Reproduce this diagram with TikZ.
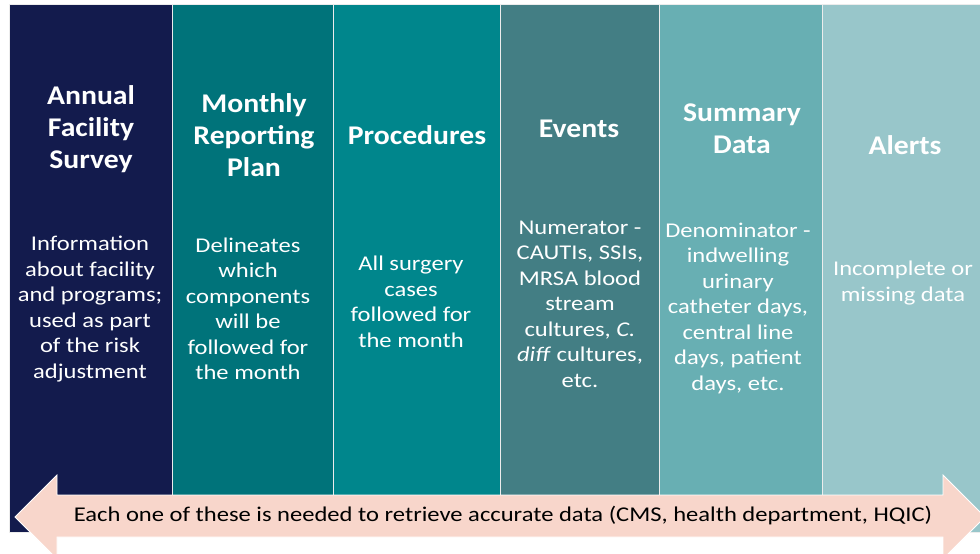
\documentclass[tikz,border=0pt]{standalone}
\usepackage{fontspec}
\setmainfont{Carlito}
\newfontfamily\headface[FakeStretch=1.1]{Carlito}
\newfontfamily\wideface[FakeStretch=1.17]{Carlito}
\usepackage{xcolor}
\usepackage{tikz}
\usetikzlibrary{positioning}

\definecolor{navyblue}{RGB}{19,27,77}
\definecolor{tealdark}{RGB}{0,115,122}
\definecolor{tealmid}{RGB}{0,134,140}
\definecolor{tealgrey}{RGB}{67,126,132}
\definecolor{teallight}{RGB}{104,175,179}
\definecolor{tealpale}{RGB}{152,198,202}
\definecolor{peach}{RGB}{248,214,203}

\tikzset{
    colbox/.style={draw=white!85!gray, line width=0.8pt},
    heading/.style={text=white, align=center, inner sep=0pt,
        font=\headface\fontsize{27}{32}\selectfont\bfseries},
    bodytext/.style={text=white, align=center, inner sep=0pt,
        font=\wideface\fontsize{21}{25.5}\selectfont},
}

\begin{document}
\begin{tikzpicture}[x=1pt, y=-1pt]
                \clip (0,0) rectangle (980,554);
                \fill[white] (0,0) rectangle (980,554);

                % columns
                \draw[colbox, fill=navyblue] (9,4) rectangle (172,532);
                \draw[colbox, fill=tealdark] (172,4) rectangle (333,532);
                \draw[colbox, fill=tealmid] (333,4) rectangle (500,532);
                \draw[colbox, fill=tealgrey] (500,4) rectangle (659,532);
                \draw[colbox, fill=teallight] (659,4) rectangle (822,532);
                \draw[colbox, fill=tealpale] (822,4) rectangle (990,532);

                % headings
                \node[heading] (survey) at (91,129) {Annual\\Facility\\Survey};
                \node[heading] (plan) at (254,135) {Monthly\\Reporting\\Plan};
                \node[heading] (procedures) at (417,135) {Procedures};
                \node[heading] (events) at (579,129) {Events};
                \node[heading] (summary) at (742,129) {Summary\\Data};
                \node[heading] (alerts) at (905,145) {Alerts};

                % descriptions
                \node[bodytext] (surveytext) at (90,309)
                    {Information\\about facility\\and programs;\\used as part\\of the risk\\adjustment};
                \node[bodytext] (plantext) at (248,309)
                    {Delineates\\which\\components\\will be\\followed for\\the month};
                \node[bodytext] (procedurestext) at (411,302)
                    {All surgery\\cases\\followed for\\the month};
                \node[bodytext] (eventstext) at (580,304)
                    {Numerator -\\CAUTIs, SSIs,\\MRSA blood\\stream\\cultures, \emph{C.}\\\emph{diff} cultures,\\etc.};
                \node[bodytext] (summarytext) at (738,308)
                    {Denominator -\\indwelling\\urinary\\catheter days,\\central line\\days, patient\\days, etc.};
                \node[bodytext] (alertstext) at (903,283)
                    {Incomplete or\\missing data};

                % double arrow along the bottom
                \draw[draw=white, line width=0.8pt, fill=peach]
                    (15,517) -- (57,475) -- (57,495) -- (943,495) -- (943,475)
                    -- (985,517) -- (943,559) -- (943,537) -- (57,537) -- (57,559) -- cycle;
                \node[inner sep=0pt, font=\wideface\fontsize{21}{25}\selectfont] (needed) at (503,516)
                    {Each one of these is needed to retrieve accurate data (CMS, health department, HQIC)};

            \end{tikzpicture}
\end{document}
